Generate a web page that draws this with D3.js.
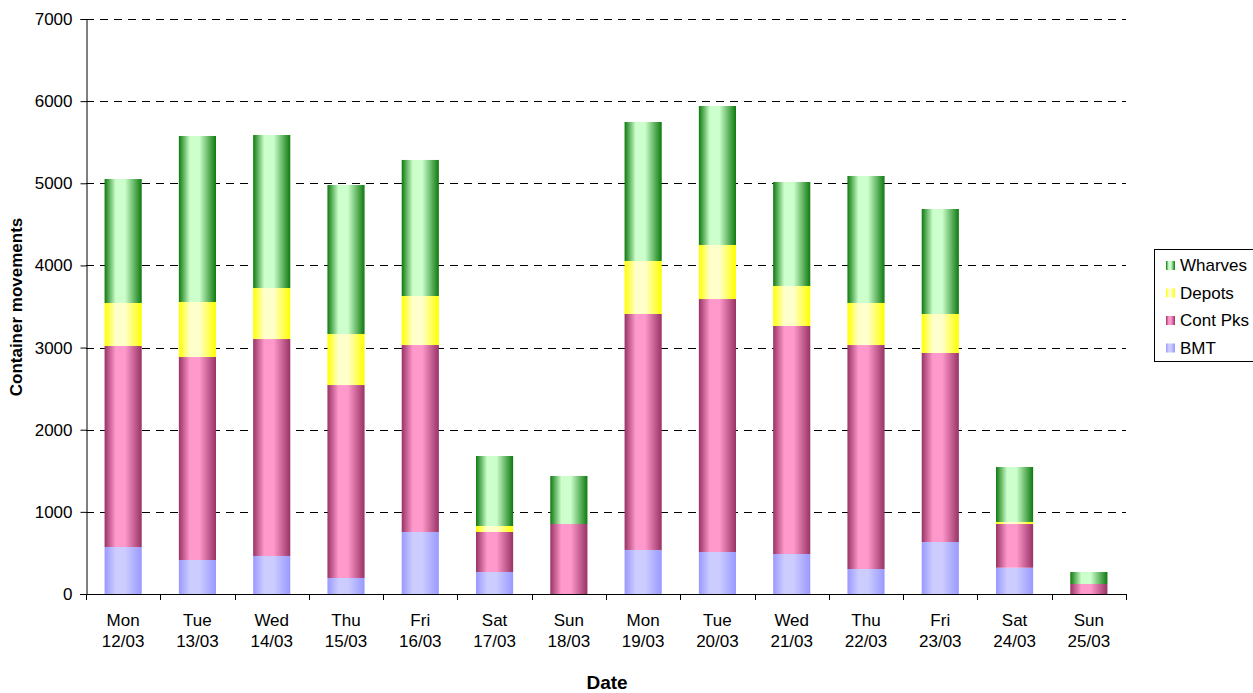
<!DOCTYPE html>
<html>
<head>
<meta charset="utf-8">
<script src="https://cdn.jsdelivr.net/npm/d3@7"></script>
<style>
  html, body { margin: 0; padding: 0; background: #fff; }
  svg { display: block; font-family: Arial, "Liberation Sans", sans-serif; }
</style>
</head>
<body>
<svg id="chart" width="1253" height="693"></svg>
<script>
// Daily container movements by terminal group, 12/03 – 25/03
const days = ["Mon", "Tue", "Wed", "Thu", "Fri", "Sat", "Sun", "Mon", "Tue", "Wed", "Thu", "Fri", "Sat", "Sun"];
const dates = ["12/03", "13/03", "14/03", "15/03", "16/03", "17/03", "18/03", "19/03", "20/03", "21/03", "22/03", "23/03", "24/03", "25/03"];

const bmt     = [572, 414, 463, 195, 755, 268, 0, 536, 511, 487, 304, 633, 320, 0];
const contPks = [2447, 2471, 2641, 2349, 2276, 487, 852, 2873, 3080, 2776, 2727, 2301, 532, 122];
const depots  = [524, 670, 621, 621, 597, 73, 0, 645, 658, 487, 512, 475, 25, 0];
const wharves = [1509, 2021, 1863, 1814, 1656, 852, 585, 1692, 1692, 1266, 1546, 1278, 669, 146];

const seriesNames = ["BMT", "Cont Pks", "Depots", "Wharves"];
const yTicks = [0, 1000, 2000, 3000, 4000, 5000, 6000, 7000];

// edge (dark) and centre (light) shades for each series
const shades = {
  "BMT":      ["#9999ff", "#ccccff"],
  "Cont Pks": ["#993366", "#ff99cc"],
  "Depots":   ["#ffff00", "#ffffcc"],
  "Wharves":  ["#0e7a0e", "#ccffcc"]
};

const rows = days.map((d, i) => ({
  idx: i,
  "BMT": bmt[i],
  "Cont Pks": contPks[i],
  "Depots": depots[i],
  "Wharves": wharves[i]
}));

const svg = d3.select("#chart");
const plot = { left: 86, right: 1126, top: 19, bottom: 594 };

const x = d3.scaleBand()
  .domain(d3.range(days.length))
  .range([plot.left, plot.right])
  .paddingInner(0.5)
  .paddingOuter(0.25);

const y = d3.scaleLinear().domain([0, 7000]).range([plot.bottom, plot.top]);

// horizontal shading for the bar segments
const defs = svg.append("defs");
seriesNames.forEach((name, k) => {
  const g = defs.append("linearGradient")
    .attr("id", "grad" + k)
    .attr("x1", "0").attr("x2", "1").attr("y1", "0").attr("y2", "0");
  const [dark, light] = shades[name];
  g.append("stop").attr("offset", "0").attr("stop-color", dark);
  g.append("stop").attr("offset", "0.3").attr("stop-color", light);
  g.append("stop").attr("offset", "0.55").attr("stop-color", light);
  g.append("stop").attr("offset", "1").attr("stop-color", dark);
});

// dashed gridlines
svg.append("g")
  .selectAll("line")
  .data(yTicks.filter(t => t > 0))
  .join("line")
  .attr("x1", plot.left).attr("x2", plot.right)
  .attr("y1", d => Math.round(y(d)) + 0.5).attr("y2", d => Math.round(y(d)) + 0.5)
  .attr("stroke", "#000")
  .attr("stroke-width", 1)
  .attr("stroke-dasharray", "8,6");

// stacked bars
const stack = d3.stack().keys(seriesNames);
const layers = stack(rows);

svg.append("g")
  .selectAll("g")
  .data(layers)
  .join("g")
  .attr("fill", (d, k) => `url(#grad${k})`)
  .selectAll("rect")
  .data(d => d)
  .join("rect")
  .attr("x", d => x(d.data.idx))
  .attr("width", x.bandwidth())
  .attr("y", d => y(d[1]))
  .attr("height", d => y(d[0]) - y(d[1]));

// y axis
const yAxis = svg.append("g")
  .attr("transform", `translate(${plot.left + 0.5},0)`)
  .call(d3.axisLeft(y).tickValues(yTicks).tickSize(6).tickPadding(8).tickFormat(d3.format("d")));
yAxis.select(".domain").attr("stroke", "#000");
yAxis.selectAll(".tick line").attr("stroke", "#000");
yAxis.selectAll("text")
  .attr("font-size", "17px")
  .attr("fill", "#000")
  .attr("font-family", "Arial, 'Liberation Sans', sans-serif");

// x axis: baseline with ticks at category boundaries
const xAxisG = svg.append("g");
xAxisG.append("line")
  .attr("x1", plot.left - 6).attr("x2", plot.right)
  .attr("y1", plot.bottom + 0.5).attr("y2", plot.bottom + 0.5)
  .attr("stroke", "#000");
const boundaries = d3.range(days.length + 1).map(i => plot.left + i * x.step());
xAxisG.selectAll("line.tk")
  .data(boundaries)
  .join("line")
  .attr("class", "tk")
  .attr("x1", d => Math.round(d) + 0.5).attr("x2", d => Math.round(d) + 0.5)
  .attr("y1", plot.bottom).attr("y2", plot.bottom + 6)
  .attr("stroke", "#000");

const xLabels = xAxisG.selectAll("text.xl")
  .data(rows)
  .join("text")
  .attr("class", "xl")
  .attr("text-anchor", "middle")
  .attr("font-size", "17px")
  .attr("fill", "#000");
xLabels.append("tspan")
  .attr("x", d => x(d.idx) + x.bandwidth() / 2)
  .attr("y", 626)
  .text(d => days[d.idx]);
xLabels.append("tspan")
  .attr("x", d => x(d.idx) + x.bandwidth() / 2)
  .attr("y", 647)
  .text(d => dates[d.idx]);

// axis titles
svg.append("text")
  .attr("x", 607)
  .attr("y", 689)
  .attr("text-anchor", "middle")
  .attr("font-size", "19px")
  .attr("font-weight", "bold")
  .text("Date");

svg.append("text")
  .attr("transform", "translate(22,307) rotate(-90)")
  .attr("text-anchor", "middle")
  .attr("font-size", "17px")
  .attr("font-weight", "bold")
  .text("Container movements");

// legend
const legend = svg.append("g");
legend.append("rect")
  .attr("x", 1154.5).attr("y", 249.5)
  .attr("width", 100).attr("height", 112)
  .attr("fill", "#fff")
  .attr("stroke", "#000");
const legendOrder = ["Wharves", "Depots", "Cont Pks", "BMT"];
const items = legend.selectAll("g.item")
  .data(legendOrder)
  .join("g")
  .attr("class", "item")
  .attr("transform", (d, i) => `translate(1166,${261 + i * 27.5})`);
items.append("rect")
  .attr("width", 9).attr("height", 9)
  .attr("fill", d => `url(#grad${seriesNames.indexOf(d)})`);
items.append("text")
  .attr("x", 14).attr("y", 10)
  .attr("font-size", "17px")
  .text(d => d);
</script>
</body>
</html>
